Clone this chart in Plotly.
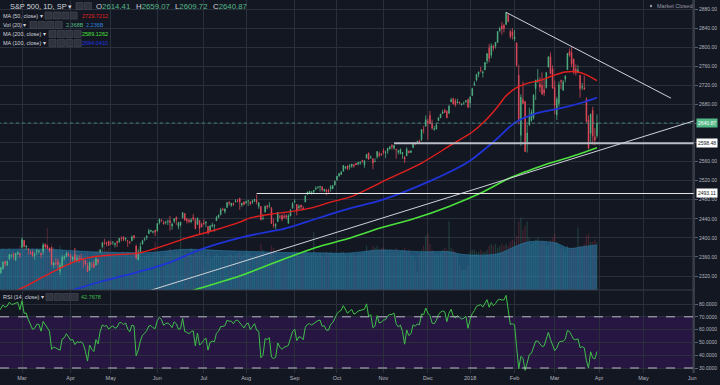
import numpy as np
import pandas as pd
import plotly.graph_objects as go

# ---------------- data ----------------
holidays = ['2017-02-20', '2017-04-14', '2017-05-29', '2017-07-04', '2017-09-04',
            '2017-11-23', '2017-12-25', '2018-01-01', '2018-01-15', '2018-02-19', '2018-03-30']

opens = [
 2322,2327,2335,2350,2343,2355,2362,2367,2353,2366,2367,
 2380,2395,2381,2376,2370,2370,2363,2372,2371,2368,2371,2387,2384,2379,2380,2343,2346,2350,2330,2340,2357,2361,2366,
 2363,2355,2365,2353,2357,2358,2355,2352,2342,2332,2342,2346,2343,2355,2370,2381,2389,2390,2393,
 2389,2391,2386,2393,2392,2400,2401,2397,2394,2392,2394,2405,2383,2354,2371,2387,2397,2401,2409,2414,2412,2416,
 2415,2432,2437,2432,2432,2434,2436,2425,2435,2444,2424,2427,2442,2451,2439,2437,2434,2443,2437,2428,2437,2429,
 2431,2431,2424,2413,2425,2425,2436,2443,2449,2460,2455,2464,2475,2468,2472,2475,2479,2483,2469,2475,
 2474,2478,2476,2475,2478,2479,2466,2466,2441,2454,2468,2468,2462,2428,2425,2434,2444,2447,2445,2447,2431,2446,2462,
 2475,2470,2463,2469,2462,2475,2491,2493,2494,2496,2502,2506,2507,2507,2498,2500,2500,2503,2503,2511,
 2521,2530,2533,2540,2547,2551,2549,2550,2553,2556,2555,2557,2563,2553,2567,2578,2568,2566,2560,2570,2577,2576,
 2583,2579,2582,2587,2594,2588,2586,2580,2576,2577,2569,2572,2582,2579,2589,2600,2600,2603,2606,2627,2634,
 2645,2657,2639,2627,2628,2646,2652,2661,2667,2665,2661,2685,2692,2688,2683,2684,2679,2683,2686,2690,
 2683,2698,2720,2731,2743,2752,2746,2752,2771,2799,2783,2802,2802,2810,2835,2845,2846,2848,2867,2833,2832,
 2817,2809,2741,2615,2690,2686,2601,2637,2646,2652,2713,2728,2723,2720,2711,2715,2758,2780,2754,
 2716,2658,2682,2730,2710,2733,2753,2791,2789,2775,2754,2747,2741,2716,2715,2691,2647,2619,2667,2612,2614.41]
highs = [
 2332,2338,2351,2352,2352,2366,2365,2368,2367,2372,2368,
 2401,2395,2384,2379,2375,2374,2370,2377,2374,2369,2390,2388,2385,2379,2381,2349,2358,2356,2348,2364,2363,2371,2370,
 2366,2361,2379,2364,2364,2367,2356,2353,2348,2349,2349,2352,2361,2356,2377,2392,2398,2392,2394,
 2394,2393,2390,2393,2399,2403,2404,2400,2396,2393,2405,2405,2384,2375,2390,2396,2401,2405,2419,2416,2415,2416,
 2431,2441,2439,2436,2436,2439,2446,2432,2441,2444,2434,2434,2454,2452,2442,2441,2441,2450,2442,2443,2437,2432,
 2439,2435,2424,2427,2432,2429,2446,2449,2463,2463,2461,2474,2477,2473,2474,2481,2481,2484,2474,2477,
 2478,2479,2477,2480,2481,2491,2474,2466,2449,2468,2468,2475,2465,2440,2431,2454,2448,2449,2451,2449,2450,2461,2475,
 2481,2471,2470,2469,2467,2489,2497,2498,2498,2500,2508,2507,2509,2508,2503,2503,2503,2511,2510,2520,
 2530,2535,2540,2552,2550,2552,2555,2555,2556,2558,2559,2560,2563,2562,2576,2579,2573,2567,2567,2582,2581,2578,
 2588,2583,2588,2593,2597,2595,2586,2585,2588,2579,2572,2590,2583,2584,2600,2601,2604,2606,2628,2635,2657,
 2650,2666,2648,2635,2641,2652,2660,2669,2671,2668,2679,2694,2694,2692,2692,2686,2682,2686,2688,2692,
 2696,2715,2729,2743,2749,2759,2751,2767,2788,2807,2808,2805,2811,2833,2843,2853,2849,2873,2870,2837,2840,
 2836,2809,2763,2701,2728,2686,2638,2673,2669,2702,2731,2754,2737,2747,2731,2747,2780,2789,2762,
 2730,2696,2728,2732,2731,2741,2787,2797,2801,2776,2764,2762,2741,2725,2740,2695,2657,2661,2675,2630,2659.07]
lows = [
 2321,2324,2334,2339,2341,2355,2358,2355,2352,2364,2358,
 2380,2380,2375,2365,2365,2360,2354,2364,2367,2358,2365,2377,2377,2369,2342,2336,2342,2335,2322,2336,2353,2359,2361,
 2344,2350,2350,2349,2348,2353,2337,2342,2329,2332,2338,2337,2342,2344,2370,2379,2387,2382,2383,
 2385,2385,2380,2381,2389,2393,2393,2393,2381,2387,2393,2397,2357,2353,2370,2386,2393,2396,2408,2412,2409,2404,
 2413,2428,2434,2428,2428,2427,2415,2417,2431,2427,2418,2424,2441,2437,2430,2431,2431,2436,2419,2428,2407,2422,
 2428,2422,2407,2413,2422,2413,2436,2441,2447,2457,2451,2463,2468,2465,2467,2475,2474,2459,2465,2468,
 2471,2467,2468,2471,2475,2470,2461,2437,2437,2454,2460,2462,2430,2421,2418,2434,2441,2435,2441,2439,2429,2445,2462,
 2473,2447,2459,2459,2459,2475,2490,2492,2491,2493,2500,2503,2497,2497,2497,2489,2492,2497,2502,2510,
 2521,2528,2532,2539,2544,2542,2543,2547,2547,2553,2552,2553,2557,2547,2567,2564,2566,2544,2559,2566,2569,2572,
 2575,2567,2576,2585,2585,2585,2566,2575,2576,2566,2557,2572,2577,2578,2589,2594,2600,2598,2603,2619,2634,
 2606,2639,2627,2625,2628,2645,2651,2660,2662,2651,2661,2685,2680,2675,2682,2680,2678,2679,2683,2673,
 2673,2698,2719,2728,2737,2747,2736,2752,2765,2768,2777,2792,2797,2809,2831,2826,2831,2846,2852,2818,2816,
 2813,2759,2638,2593,2681,2580,2579,2635,2644,2648,2689,2725,2706,2701,2697,2713,2758,2744,2713,
 2659,2647,2675,2712,2708,2726,2752,2780,2758,2743,2740,2747,2694,2710,2710,2642,2586,2601,2596,2594,2609.72]
closes = [
 2328,2338,2349,2347,2351,2365,2363,2364,2367,2370,2364,
 2396,2382,2383,2375,2368,2363,2365,2373,2373,2365,2385,2381,2378,2373,2344,2348,2346,2344,2342,2359,2361,2368,2363,
 2359,2360,2353,2357,2356,2357,2354,2345,2329,2349,2342,2338,2356,2349,2374,2389,2387,2389,2384,
 2388,2391,2388,2390,2399,2399,2397,2400,2394,2391,2402,2401,2357,2366,2382,2394,2398,2404,2415,2416,2413,2412,
 2430,2439,2436,2429,2433,2434,2432,2429,2440,2438,2432,2433,2453,2437,2436,2434,2438,2439,2419,2441,2420,2423,
 2429,2433,2410,2425,2427,2426,2443,2448,2459,2459,2461,2474,2473,2473,2470,2477,2478,2475,2472,2470,
 2476,2478,2472,2477,2481,2475,2474,2438,2441,2466,2465,2468,2430,2426,2428,2453,2444,2439,2443,2444,2446,2458,2472,
 2477,2458,2466,2465,2461,2488,2496,2498,2496,2500,2504,2507,2508,2501,2502,2497,2497,2507,2510,2519,
 2529,2535,2538,2552,2549,2545,2551,2555,2551,2553,2558,2559,2561,2562,2575,2565,2569,2557,2560,2581,2573,2575,
 2579,2580,2588,2591,2591,2594,2585,2582,2585,2579,2565,2586,2579,2582,2599,2597,2602,2601,2627,2626,2648,
 2642,2639,2630,2629,2637,2652,2660,2664,2663,2652,2676,2690,2681,2679,2685,2683,2681,2683,2688,2674,
 2696,2713,2724,2743,2748,2751,2748,2768,2786,2776,2803,2798,2810,2833,2839,2838,2839,2873,2854,2822,2824,
 2822,2762,2649,2695,2682,2581,2620,2656,2663,2699,2731,2732,2716,2701,2704,2747,2780,2744,2714,
 2678,2691,2721,2728,2727,2739,2787,2783,2765,2749,2747,2752,2713,2717,2712,2644,2588,2659,2613,2605,2640.87]
volumes = [  # billions
 1.9,2.0,2.1,2.0,2.0,2.1,1.9,2.0,1.9,1.8,2.2,
 2.6,2.1,1.9,1.8,1.9,2.1,2.0,1.9,1.7,1.9,2.2,2.0,3.1,1.8,2.3,2.1,2.0,1.9,2.2,2.0,1.8,1.7,1.9,
 1.9,1.8,2.1,1.8,1.7,1.6,1.8,1.8,1.9,1.6,1.8,1.9,1.9,2.0,2.0,2.1,2.2,2.0,2.1,
 1.8,1.9,1.9,1.9,1.8,1.8,1.9,1.8,1.9,1.7,1.7,1.8,2.3,2.1,1.9,1.6,1.7,1.7,1.8,1.6,1.8,2.4,
 1.8,1.8,1.6,1.7,1.8,1.9,2.1,1.9,1.8,1.9,1.9,3.2,1.8,1.9,1.8,1.8,2.1,1.7,1.9,1.8,2.0,1.8,
 1.2,1.6,1.9,1.6,1.6,1.7,1.8,1.7,1.7,1.6,1.7,1.7,1.8,1.8,1.7,1.8,1.8,1.9,1.7,1.8,
 1.8,1.9,1.8,1.7,1.6,1.8,1.8,2.3,2.0,1.6,1.6,1.7,2.2,2.1,1.6,1.5,1.5,1.5,1.5,1.4,1.5,1.6,1.9,
 1.6,1.9,1.7,1.7,1.8,1.9,1.8,1.7,1.8,2.9,1.8,1.7,1.8,1.7,1.6,1.9,1.8,1.9,1.8,1.8,
 1.8,1.8,1.9,1.9,1.8,1.6,1.8,1.8,1.8,1.7,1.8,1.8,1.8,1.9,2.2,1.9,2.0,2.2,2.1,2.2,2.0,2.1,
 2.1,2.0,1.9,2.0,2.0,1.9,2.1,1.9,1.9,2.0,2.1,1.9,2.0,1.7,1.7,1.5,0.9,1.8,2.0,2.2,2.7,
 2.8,2.3,2.0,1.9,1.8,1.8,1.9,2.0,2.1,2.0,3.4,2.1,2.0,1.9,1.8,1.2,1.0,1.0,1.0,1.2,
 1.9,2.0,2.0,1.9,1.9,2.0,1.9,1.9,2.0,2.2,2.3,2.2,2.3,2.1,2.2,2.3,2.2,2.3,2.2,2.4,2.5,
 2.4,2.7,3.4,3.6,3.0,3.2,3.4,2.6,2.3,2.4,2.5,2.6,2.3,2.4,2.4,2.2,2.2,2.5,2.6,
 2.8,2.4,2.2,2.1,2.1,2.0,2.2,2.0,2.1,2.1,2.0,3.1,2.2,2.1,2.3,2.7,2.8,2.4,2.4,2.5,2.368]
# closes before the visible window, only used to warm up RSI(14)
warmup_closes = [2257.8,2270.8,2269.0,2277.0,2268.9,2268.9,2275.3,2270.4,2274.6,2267.9,
                 2271.9,2263.7,2271.3,2265.2,2280.1,2298.4,2296.7,2294.7,2280.9,2278.9,
                 2279.6,2280.9,2297.4,2292.6,2293.1,2294.7,2307.9,2316.1]

# moving averages (bar number, value)
ma50_bars = [0,9,21,32,42,53,66,75,89,102,114,119,129,138,148,157,167,183,200,214,224,230,236,240,245,250,256,262,268,274,278,283]
ma50_vals = [2282,2291,2318,2343,2358,2364,2368,2379,2400,2416,2433,2442,2450,2455,2463,2475,2487,2521,2557,2595,2622,2645,2675,2698,2715,2724,2730,2740,2748,2748,2742,2729.72]
ma100_bars = [30,37,48,64,80,95,114,129,134,148,157,167,181,205,222,235,244,255,266,277,283]
ma100_vals = [2282,2293,2308,2326,2347,2375,2400,2414,2418,2437,2450,2463,2479,2521,2559,2605,2641,2662,2672,2685,2694]
ma200_bars = [85,94,114,134,150,165,180,197,213,228,241,250,260,270,276,283]
ma200_vals = [2280,2293,2320,2354,2380,2398,2420,2441,2466,2494,2524,2540,2556,2569,2578,2589.13]
volma_bars = [0,10,24,43,60,72,88,107,124,134,150,165,181,200,213,220,236,244,251,263,270,276,283]
volma_vals = [2.02,2.03,2.02,1.90,1.86,1.86,2.02,1.95,1.90,1.86,1.85,1.83,1.99,1.90,1.90,1.76,1.80,2.15,2.40,2.35,2.07,2.15,2.236]

# drawings (bar number, price)
down_trend = [(240, 2873), (318, 2693)]
up_trend = [(60, 2273.6), (331, 2648.4)]
level_hi = (187, 2598.48)
level_lo = (122, 2493.11)
last_price = 2640.87

# ---------------- derived ----------------
n = len(closes)
for nm, arr in [('opens', opens), ('highs', highs), ('lows', lows), ('volumes', volumes)]:
    assert len(arr) == n, (nm, len(arr), n)
cbd = pd.offsets.CustomBusinessDay(holidays=holidays)
dates = pd.date_range('2017-02-13', periods=n, freq=cbd)
assert dates[-1] == pd.Timestamp('2018-03-29'), dates[-1]
future = pd.date_range('2018-04-02', '2018-07-31', freq='B')
all_dates = dates.append(future)
bars = np.arange(n)

tickvals, ticktext = [], []
prev = None
for i, d in enumerate(all_dates):
    key = (d.year, d.month)
    if key != prev:
        if prev is not None:
            tickvals.append(i)
            ticktext.append(str(d.year) if d.month == 1 else d.strftime('%b'))
        prev = key

allc = np.array(warmup_closes + closes, float)
diff = np.diff(allc)
gain = np.clip(diff, 0, None)
loss = np.clip(-diff, 0, None)
L = 14
ag, al = gain[:L].mean(), loss[:L].mean()
rsi_all = [np.nan] * L
rsi_all.append(100 - 100 / (1 + ag / al))
for gg, ll in zip(gain[L:], loss[L:]):
    ag = (ag * (L - 1) + gg) / L
    al = (al * (L - 1) + ll) / L
    rsi_all.append(100 - 100 / (1 + ag / al) if al > 0 else 100)
rsi = np.array(rsi_all)[-n:]

# ---------------- style ----------------
BG = '#131722'
GRID = '#2a2f3c'
UP = '#53b987'
DN = '#eb4d5c'
TXT = '#b2b5be'
FONT = 'Liberation Sans, Arial, sans-serif'
PW, PH = 694, 373
MAIN_BOT = (PH - 290) / PH
RSI_TOP = (PH - 291) / PH

fig = go.Figure()

vol_cols = ['rgba(83,185,135,0.22)' if c >= o else 'rgba(235,77,92,0.22)' for o, c in zip(opens, closes)]
fig.add_trace(go.Bar(x=bars, y=volumes, marker=dict(color=vol_cols, line=dict(width=0)),
                     width=0.6, xaxis='x2', yaxis='y', hoverinfo='skip'))
fig.add_trace(go.Scatter(x=volma_bars, y=volma_vals, mode='lines', line=dict(color='#2a7aa3', width=0.6, shape='spline'),
                         fill='tozeroy', fillcolor='rgba(40,130,180,0.55)', xaxis='x2', yaxis='y'))

fig.add_trace(go.Candlestick(x=bars, open=opens, high=highs, low=lows, close=closes,
                             increasing=dict(line=dict(color=UP, width=0.7), fillcolor=UP),
                             decreasing=dict(line=dict(color=DN, width=0.7), fillcolor=DN),
                             whiskerwidth=0, xaxis='x2', yaxis='y2'))

for bx, vy, col, w in [(ma200_bars, ma200_vals, '#4be03c', 1.6),
                       (ma100_bars, ma100_vals, '#1f33d6', 1.8),
                       (ma50_bars, ma50_vals, '#e3201e', 1.4)]:
    fig.add_trace(go.Scatter(x=bx, y=vy, mode='lines', line=dict(color=col, width=w, shape='spline', smoothing=0.8),
                             xaxis='x2', yaxis='y2'))

XR = [0.59, 328.9]
fig.add_trace(go.Scatter(x=[XR[0] - 1, XR[1] + 1], y=[last_price] * 2, mode='lines',
                         line=dict(color='#4a9a8a', width=0.8, dash='dot'), xaxis='x2', yaxis='y2'))
fig.add_trace(go.Scatter(x=[level_hi[0], XR[1] + 1], y=[level_hi[1]] * 2, mode='lines',
                         line=dict(color='#b8bcc4', width=2), xaxis='x2', yaxis='y2'))
fig.add_trace(go.Scatter(x=[level_lo[0], XR[1] + 1], y=[level_lo[1]] * 2, mode='lines',
                         line=dict(color='#e6e6e6', width=1), xaxis='x2', yaxis='y2'))
for pts in (down_trend, up_trend):
    fig.add_trace(go.Scatter(x=[p[0] for p in pts], y=[p[1] for p in pts], mode='lines',
                             line=dict(color='#d0d3da', width=1), xaxis='x2', yaxis='y2'))

fig.add_trace(go.Scatter(x=bars, y=rsi, mode='lines', line=dict(color='#3fbf4a', width=1), xaxis='x', yaxis='y3'))

shapes = [
    dict(type='rect', xref='paper', yref='y3', x0=0, x1=1, y0=30, y1=70, fillcolor='rgba(153,21,255,0.14)',
         line=dict(width=0), layer='below'),
    dict(type='line', xref='paper', yref='y3', x0=0, x1=1, y0=70, y1=70, line=dict(color='#b8bac2', width=1, dash='dash')),
    dict(type='line', xref='paper', yref='y3', x0=0, x1=1, y0=30, y1=30, line=dict(color='#b8bac2', width=1, dash='dash')),
    dict(type='line', xref='paper', yref='paper', x0=0, x1=1, y0=MAIN_BOT, y1=MAIN_BOT, line=dict(color='#3a3e4a', width=1)),
    dict(type='line', xref='paper', yref='paper', x0=1, x1=1, y0=0, y1=1, line=dict(color='#5d606b', width=1)),
]

ann = []
def txt(xp, yp, s, color='#d1d4dc', size=5.5):
    ann.append(dict(xref='paper', yref='paper', x=xp / PW, y=(PH - yp) / PH, text=s, showarrow=False,
                    xanchor='left', yanchor='middle', font=dict(family=FONT, size=size, color=color)))

def buttons(xs, yc, k, w=7, gap=1.4):
    for j in range(k):
        x0 = xs + j * (w + gap)
        shapes.append(dict(type='rect', xref='paper', yref='paper', x0=x0 / PW, x1=(x0 + w) / PW,
                           y0=(PH - yc - w / 2) / PH, y1=(PH - yc + w / 2) / PH,
                           fillcolor='#2f333e', line=dict(color='#4a4e59', width=0.6)))

txt(8, 6, 'S&amp;P 500, 1D, SP ▾', '#d1d4dc', 7.4)
buttons(76, 6, 2)
for xp, lab, val in [(94, 'O', '2614.41'), (134, 'H', '2659.07'), (173, 'L', '2609.72'), (211, 'C', '2640.87')]:
    txt(xp, 6, f"{lab}<span style='color:{UP}'>{val}</span>", '#d1d4dc', 7.8)
txt(1, 15.5, 'MA (50, close) ▾')
buttons(45, 15.5, 4)
txt(80, 15.5, '2729.7212', '#e3201e')
txt(1, 25, 'Vol (20) ▾')
buttons(30, 25, 4)
txt(64, 25, '2.368B', UP)
txt(84, 25, '2.236B', '#2f7fd8')
txt(1, 34, 'MA (200, close) ▾')
buttons(49, 34, 4)
txt(80, 34, '2589.1262', '#4be03c')
txt(1, 43, 'MA (100, close) ▾')
buttons(49, 43, 4)
txt(80, 43, '2694.0410', '#2234e0')
txt(1, 297, 'RSI (14, close) ▾')
buttons(46, 297, 4)
txt(79, 297, '42.7678', '#3fbf4a')
shapes.append(dict(type='circle', xref='paper', yref='paper', x0=649.8 / PW, x1=652.2 / PW,
                   y0=(PH - 7.2) / PH, y1=(PH - 4.8) / PH, fillcolor='#9598a1', line=dict(width=0)))
txt(655, 6, 'Market Closed', '#9598a1', 5.5)

for price, label, bg, fc in [(last_price, '2640.87', UP, '#ffffff'),
                             (level_hi[1], '2598.48', '#ffffff', '#131722'),
                             (level_lo[1], '2493.11', '#ffffff', '#131722')]:
    ann.append(dict(xref='paper', yref='y2', x=1, y=price, xanchor='left', yanchor='middle', xshift=2,
                    text=label, showarrow=False, bgcolor=bg, borderpad=1,
                    font=dict(family=FONT, size=5, color=fc)))

price_ticks = list(range(2320, 2881, 40))
price_text = ['' if v in (2600, 2640) else f'{v:.2f}' for v in price_ticks]
rsi_ticks = [30, 40, 50, 60, 70, 80]

axis_common = dict(showline=False, zeroline=False, gridcolor=GRID, gridwidth=1)
fig.update_layout(
    width=720, height=385, margin=dict(l=0, r=720 - PW, t=0, b=385 - PH),
    paper_bgcolor=BG, plot_bgcolor=BG, showlegend=False, boxgap=0.55,
    font=dict(family=FONT, color=TXT),
    xaxis=dict(domain=[0, 1], anchor='y3', range=XR, tickvals=tickvals, ticktext=ticktext,
               tickfont=dict(size=5.5, color=TXT), ticks='', **axis_common),
    xaxis2=dict(domain=[0, 1], anchor='y', matches='x', showticklabels=False, ticks='',
                tickvals=tickvals, rangeslider=dict(visible=False), **axis_common),
    yaxis=dict(domain=[MAIN_BOT, 1], range=[0, 14.41], visible=False, showgrid=False, anchor='x2'),
    yaxis2=dict(overlaying='y', side='right', anchor='x2', range=[2290.7, 2898.9],
                tickvals=price_ticks, ticktext=price_text, tickfont=dict(size=5, color=TXT),
                ticks='outside', ticklen=3, tickcolor='#5d606b', **axis_common),
    yaxis3=dict(domain=[0, RSI_TOP], side='right', anchor='x', range=[26.09, 90.16],
                tickvals=rsi_ticks, ticktext=[f'{v:.4f}' for v in rsi_ticks],
                tickfont=dict(size=5, color=TXT), ticks='outside', ticklen=3, tickcolor='#5d606b',
                **axis_common),
    shapes=shapes, annotations=ann,
)

fig.write_html('out.html', config={'displayModeBar': False},
               post_script="document.body.style.margin='0';document.body.style.background='#131722';")
